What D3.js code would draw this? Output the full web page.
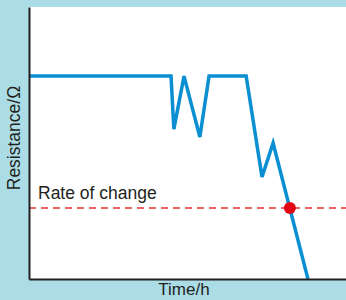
<!DOCTYPE html>
<html lang="en">
<head>
<meta charset="UTF-8">
<title>Resistance over time</title>
<script src="https://d3js.org/d3.v7.min.js"></script>
<style>
  body { margin: 0; background: #acdde6; }
  svg { display: block; }
  text { font-family: "Liberation Sans", Arial, sans-serif; fill: #231f20; }
</style>
</head>
<body>
<script>
// data (arbitrary units)
const timeVals = [0, 44.8, 45.7, 48.9, 53.9, 56.8, 68.5, 73.5, 77.0, 88.0];
const resistanceVals = [74.6, 74.6, 55.1, 74.6, 52.2, 74.6, 74.6, 37.5, 50.0, 0];
const rateLevel = 26.1;
const markerTime = 82.3;
const labels = { x: "Time/h", y: "Resistance/\u03a9", rate: "Rate of change" };

const width = 346, height = 300;
const margin = { top: 7, right: 0, bottom: 21, left: 29 };

const svg = d3.select("body").append("svg")
  .attr("width", width)
  .attr("height", height);

const x = d3.scaleLinear().domain([0, 100]).range([margin.left, width - margin.right]);
const y = d3.scaleLinear().domain([0, 100]).range([height - margin.bottom, margin.top]);

// plot background
svg.append("rect")
  .attr("x", x(0)).attr("y", y(100))
  .attr("width", x(100) - x(0)).attr("height", y(0) - y(100))
  .attr("fill", "#fff");

// rate of change dashed line
svg.append("line")
  .attr("x1", x(0)).attr("x2", x(100))
  .attr("y1", y(rateLevel)).attr("y2", y(rateLevel))
  .attr("stroke", "#e8303a").attr("stroke-width", 1.6)
  .attr("stroke-dasharray", "7,5");

svg.append("text")
  .attr("x", x(0) + 9).attr("y", y(rateLevel) - 9)
  .attr("font-size", 17.5)
  .text(labels.rate);

// resistance line
const pts = timeVals.map((t, i) => [t, resistanceVals[i]]);
svg.append("path")
  .datum(pts)
  .attr("fill", "none")
  .attr("stroke", "#0a8fd2")
  .attr("stroke-width", 3.5)
  .attr("stroke-linejoin", "miter")
  .attr("d", d3.line().x(d => x(d[0])).y(d => y(d[1])));

// crossing point
svg.append("circle")
  .attr("cx", x(markerTime)).attr("cy", y(rateLevel))
  .attr("r", 6).attr("fill", "#e30613");

// axes (plain lines, no ticks)
svg.append("g")
  .attr("transform", `translate(0,${y(0)})`)
  .call(d3.axisBottom(x).tickValues([]).tickSizeOuter(0))
  .select(".domain").attr("stroke", "#231f20").attr("stroke-width", 2);

svg.append("g")
  .attr("transform", `translate(${x(0)},0)`)
  .call(d3.axisLeft(y).tickValues([]).tickSizeOuter(0))
  .select(".domain").attr("stroke", "#231f20").attr("stroke-width", 2);

// axis titles
svg.append("text")
  .attr("x", 184).attr("y", 295)
  .attr("text-anchor", "middle")
  .attr("font-size", 17)
  .text(labels.x);

svg.append("text")
  .attr("transform", `translate(20,${138}) rotate(-90)`)
  .attr("text-anchor", "middle")
  .attr("font-size", 17.5)
  .text(labels.y);
</script>
</body>
</html>
